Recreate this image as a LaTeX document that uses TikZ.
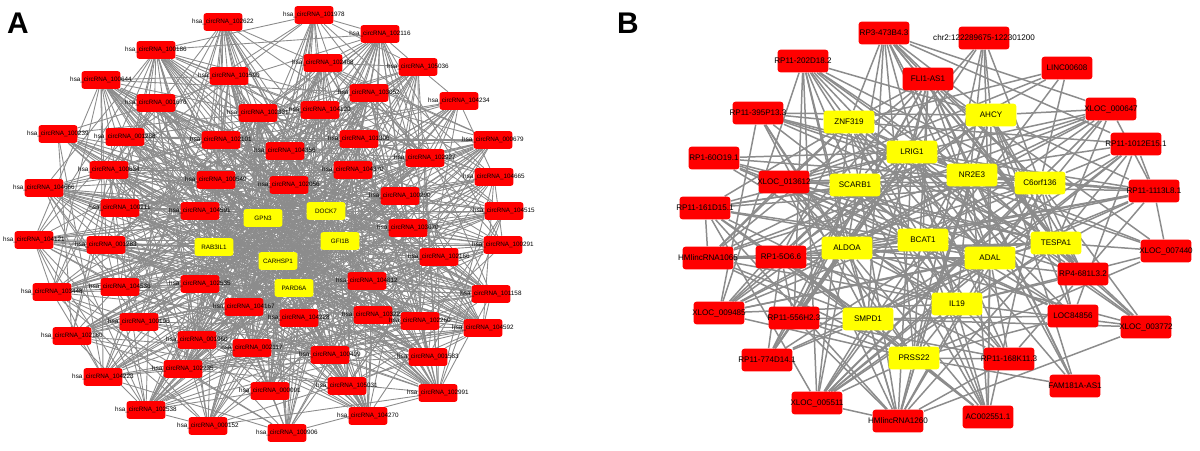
\documentclass[tikz,border=0pt]{standalone}
\usepackage{fontspec}
\setmainfont{Liberation Sans}
\usetikzlibrary{backgrounds}

\definecolor{circred}{RGB}{255,0,0}
\definecolor{generow}{RGB}{255,255,0}
\definecolor{linkgray}{RGB}{140,140,140}

\begin{document}
\begin{tikzpicture}[
    x=0.02cm, y=-0.02cm,
    lblA/.style={font=\fontsize{3.6}{4}\selectfont, text=black, inner sep=0pt},
    lblB/.style={font=\fontsize{4.6}{5}\selectfont, text=black, inner sep=0pt},
    circA/.style={rectangle, rounded corners=1.3pt, fill=circred, minimum width=22pt, minimum height=10pt, inner sep=0pt, label={[lblA]center:{#1}}},
    geneA/.style={circA=#1, fill=generow},
    circB/.style={rectangle, rounded corners=1.8pt, fill=circred, minimum width=29pt, minimum height=13pt, inner sep=0pt, label={[lblB]center:{#1}}},
    geneB/.style={circB=#1, fill=generow},
    linkA/.style={draw=linkgray, line width=0.5pt},
    linkB/.style={draw=linkgray, line width=0.85pt},
    panel/.style={font=\bfseries\fontsize{17}{17}\selectfont}
]
\useasboundingbox (0,0) rectangle (1200,450);

% panel A: circRNAs
\node[circA={hsa\_circRNA\_100186}] (a1) at (156,50) {};
\node[circA={hsa\_circRNA\_100644}] (a2) at (101,80) {};
\node[circA={hsa\_circRNA\_001676}] (a3) at (156,103) {};
\node[circA={hsa\_circRNA\_100239}] (a4) at (58,134) {};
\node[circA={hsa\_circRNA\_001268}] (a5) at (125,137) {};
\node[circA={hsa\_circRNA\_100634}] (a6) at (109,170) {};
\node[circA={hsa\_circRNA\_104666}] (a7) at (44,188) {};
\node[circA={hsa\_circRNA\_100211}] (a8) at (120,208) {};
\node[circA={hsa\_circRNA\_104591}] (a9) at (200,211) {};
\node[circA={hsa\_circRNA\_102622}] (a10) at (223,22) {};
\node[circA={hsa\_circRNA\_101978}] (a11) at (314,15) {};
\node[circA={hsa\_circRNA\_102116}] (a12) at (380,34) {};
\node[circA={hsa\_circRNA\_102468}] (a13) at (323,63) {};
\node[circA={hsa\_circRNA\_101590}] (a14) at (229,76) {};
\node[circA={hsa\_circRNA\_103052}] (a15) at (369,93) {};
\node[circA={hsa\_circRNA\_102331}] (a16) at (258,113) {};
\node[circA={hsa\_circRNA\_104120}] (a17) at (320,110) {};
\node[circA={hsa\_circRNA\_102101}] (a18) at (221,140) {};
\node[circA={hsa\_circRNA\_101306}] (a19) at (359,139) {};
\node[circA={hsa\_circRNA\_104356}] (a20) at (285,151) {};
\node[circA={hsa\_circRNA\_104370}] (a21) at (353,170) {};
\node[circA={hsa\_circRNA\_100549}] (a22) at (216,180) {};
\node[circA={hsa\_circRNA\_102056}] (a23) at (289,185) {};
\node[circA={hsa\_circRNA\_100290}] (a24) at (400,196) {};
\node[circA={hsa\_circRNA\_103670}] (a25) at (408,228) {};
\node[circA={hsa\_circRNA\_105036}] (a26) at (418,67) {};
\node[circA={hsa\_circRNA\_104234}] (a27) at (459,101) {};
\node[circA={hsa\_circRNA\_000679}] (a28) at (493,140) {};
\node[circA={hsa\_circRNA\_102927}] (a29) at (425,158) {};
\node[circA={hsa\_circRNA\_104665}] (a30) at (494,177) {};
\node[circA={hsa\_circRNA\_104515}] (a31) at (504,211) {};
\node[circA={hsa\_circRNA\_104121}] (a32) at (34,240) {};
\node[circA={hsa\_circRNA\_001283}] (a33) at (106,245) {};
\node[circA={hsa\_circRNA\_103448}] (a34) at (52,292) {};
\node[circA={hsa\_circRNA\_104536}] (a35) at (120,287) {};
\node[circA={hsa\_circRNA\_102535}] (a36) at (200,284) {};
\node[circA={hsa\_circRNA\_100196}] (a37) at (139,322) {};
\node[circA={hsa\_circRNA\_102180}] (a38) at (72,336) {};
\node[circA={hsa\_circRNA\_001960}] (a39) at (197,340) {};
\node[circA={hsa\_circRNA\_102235}] (a40) at (183,369) {};
\node[circA={hsa\_circRNA\_104223}] (a41) at (103,377) {};
\node[circA={hsa\_circRNA\_102538}] (a42) at (146,410) {};
\node[circA={hsa\_circRNA\_000152}] (a43) at (208,426) {};
\node[circA={hsa\_circRNA\_104812}] (a44) at (367,281) {};
\node[circA={hsa\_circRNA\_104167}] (a45) at (244,307) {};
\node[circA={hsa\_circRNA\_104228}] (a46) at (299,318) {};
\node[circA={hsa\_circRNA\_103222}] (a47) at (373,315) {};
\node[circA={hsa\_circRNA\_002117}] (a48) at (252,348) {};
\node[circA={hsa\_circRNA\_100409}] (a49) at (330,355) {};
\node[circA={hsa\_circRNA\_000091}] (a50) at (270,391) {};
\node[circA={hsa\_circRNA\_105031}] (a51) at (347,386) {};
\node[circA={hsa\_circRNA\_104270}] (a52) at (368,416) {};
\node[circA={hsa\_circRNA\_100906}] (a53) at (287,433) {};
\node[circA={hsa\_circRNA\_100291}] (a54) at (503,245) {};
\node[circA={hsa\_circRNA\_102166}] (a55) at (439,257) {};
\node[circA={hsa\_circRNA\_101158}] (a56) at (491,294) {};
\node[circA={hsa\_circRNA\_102260}] (a57) at (420,321) {};
\node[circA={hsa\_circRNA\_104592}] (a58) at (483,328) {};
\node[circA={hsa\_circRNA\_001583}] (a59) at (428,357) {};
\node[circA={hsa\_circRNA\_102991}] (a60) at (438,393) {};

% panel A: genes
\node[geneA=GPN3] (g1) at (263,218) {};
\node[geneA=DOCK7] (g2) at (326,211) {};
\node[geneA=RAB3IL1] (g3) at (214,247) {};
\node[geneA=GFI1B] (g4) at (340,241) {};
\node[geneA=CARHSP1] (g5) at (278,261) {};
\node[geneA=PARD6A] (g6) at (294,288) {};

% panel B: lncRNAs
\node[circB={RP3-473B4.3}] (b1) at (884,33) {};
\node[circB={chr2:122289675-122301200}] (b2) at (984,38) {};
\node[circB={RP11-202D18.2}] (b3) at (803,61) {};
\node[circB={FLI1-AS1}] (b4) at (928,79) {};
\node[circB={LINC00608}] (b5) at (1067,68) {};
\node[circB={RP11-395P13.3}] (b6) at (758,113) {};
\node[circB={XLOC\_000647}] (b7) at (1111,109) {};
\node[circB={RP1-60O19.1}] (b8) at (714,158) {};
\node[circB={RP11-1012E15.1}] (b9) at (1136,144) {};
\node[circB={XLOC\_013612}] (b10) at (784,182) {};
\node[circB={RP11-161D15.1}] (b11) at (705,208) {};
\node[circB={RP11-1113L8.1}] (b12) at (1154,191) {};
\node[circB={HMlincRNA1065}] (b13) at (708,258) {};
\node[circB={RP1-5O6.6}] (b14) at (781,257) {};
\node[circB={XLOC\_007440}] (b15) at (1166,251) {};
\node[circB={RP4-681L3.2}] (b16) at (1083,274) {};
\node[circB={XLOC\_009485}] (b17) at (719,313) {};
\node[circB={RP11-556H2.3}] (b18) at (794,318) {};
\node[circB={LOC84856}] (b19) at (1073,316) {};
\node[circB={XLOC\_003772}] (b20) at (1146,327) {};
\node[circB={RP11-774D14.1}] (b21) at (767,360) {};
\node[circB={RP11-168K11.3}] (b22) at (1009,359) {};
\node[circB={FAM181A-AS1}] (b23) at (1075,386) {};
\node[circB={XLOC\_005511}] (b24) at (817,403) {};
\node[circB={HMlincRNA1260}] (b25) at (898,421) {};
\node[circB={AC002551.1}] (b26) at (988,417) {};

% panel B: mRNAs
\node[geneB=ZNF319] (m1) at (849,122) {};
\node[geneB=AHCY] (m2) at (991,115) {};
\node[geneB=LRIG1] (m3) at (912,152) {};
\node[geneB=SCARB1] (m4) at (855,185) {};
\node[geneB=NR2E3] (m5) at (972,175) {};
\node[geneB=C6orf136] (m6) at (1040,183) {};
\node[geneB=ALDOA] (m7) at (847,248) {};
\node[geneB=BCAT1] (m8) at (923,240) {};
\node[geneB=TESPA1] (m9) at (1056,243) {};
\node[geneB=ADAL] (m10) at (990,258) {};
\node[geneB=IL19] (m11) at (957,304) {};
\node[geneB=SMPD1] (m12) at (868,319) {};
\node[geneB=PRSS22] (m13) at (914,358) {};

\node[panel] (pA) at (18,23) {A};
\node[panel] (pB) at (628,23) {B};

% edges
\begin{scope}[on background layer]
\pgfmathsetseed{17}
\foreach \i in {1,...,60}{
  \foreach \k in {1,...,6}{\draw[linkA] (a\i) -- (g\k);}
  \foreach \j in {1,...,60}{
    \ifnum\j>\i
      \pgfmathsetmacro\coin{rnd}
      \ifdim\coin pt<0.28pt \draw[linkA] (a\i) -- (a\j);\fi
    \fi
  }
}
\foreach \i in {1,...,6}{
  \foreach \j in {1,...,6}{
    \ifnum\j>\i \draw[linkA] (g\i) -- (g\j);\fi
  }
}
\foreach \i in {1,...,26}{
  \foreach \k in {1,...,13}{
    \pgfmathsetmacro\coin{rnd}
    \ifdim\coin pt<0.6pt \draw[linkB] (b\i) -- (m\k);\fi
  }
  \foreach \j in {1,...,26}{
    \ifnum\j>\i
      \pgfmathsetmacro\coin{rnd}
      \ifdim\coin pt<0.2pt \draw[linkB] (b\i) -- (b\j);\fi
    \fi
  }
}
\foreach \i in {1,...,13}{
  \foreach \j in {1,...,13}{
    \ifnum\j>\i
      \pgfmathsetmacro\coin{rnd}
      \ifdim\coin pt<0.3pt \draw[linkB] (m\i) -- (m\j);\fi
    \fi
  }
}
\end{scope}
\end{tikzpicture}
\end{document}
